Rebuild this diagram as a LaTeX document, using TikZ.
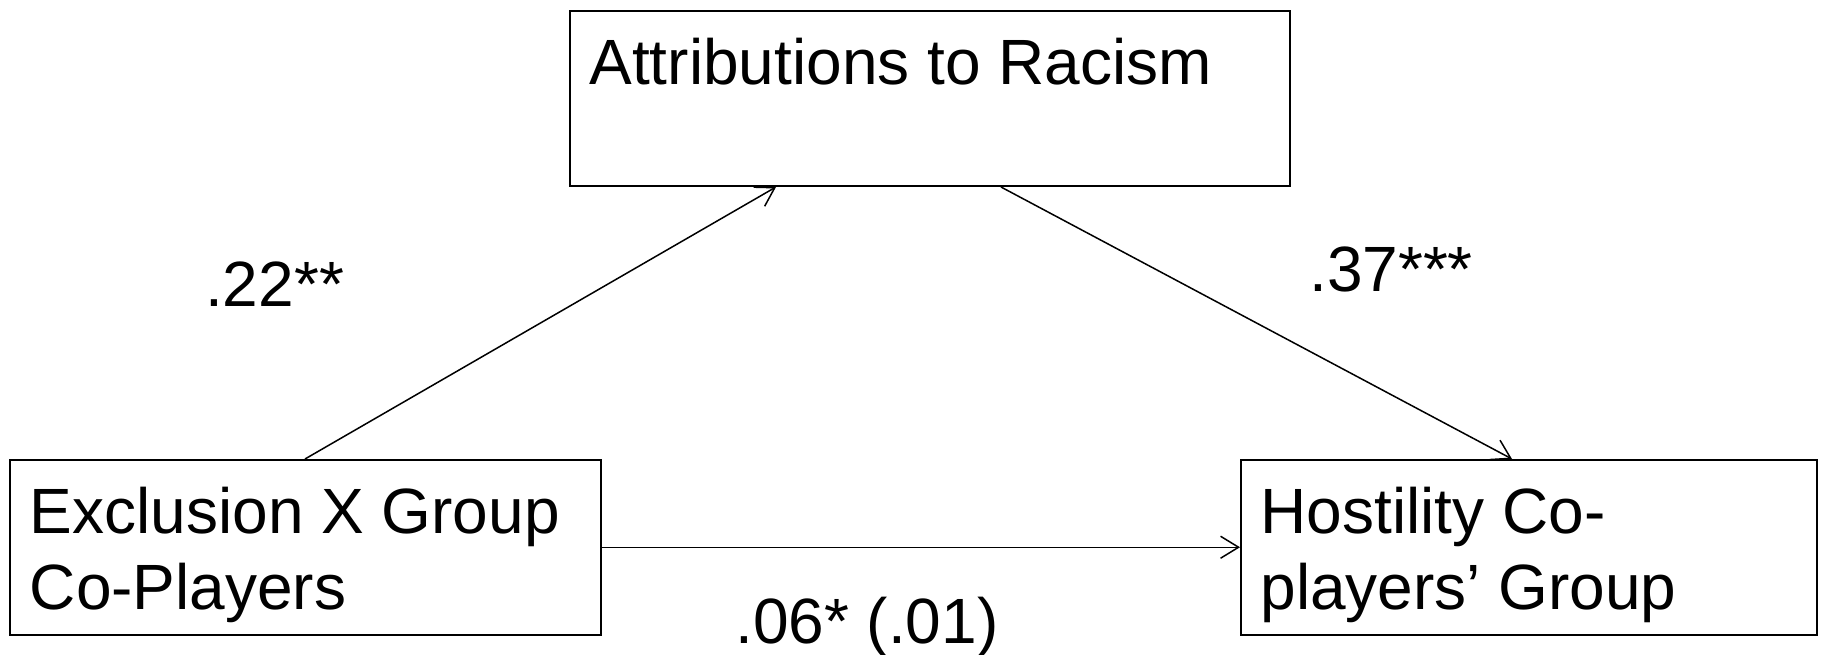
\documentclass[tikz,border=0pt]{standalone}
\usepackage{fontspec}
\setmainfont{Liberation Sans}
\usepackage{tikz}
\usetikzlibrary{arrows.meta,positioning,calc}

% box text: first baseline at fixed depth below top edge
\newcommand{\vartext}[2]{\parbox[c][174.5pt][t]{#1}{\raggedright\rule{0pt}{73.5pt}#2}}

\tikzset{
  var/.style={draw,line width=2pt,inner xsep=19.5pt,inner ysep=0pt,anchor=north west,
    font=\fontsize{64}{75.5}\selectfont},
  path/.style={->,line width=1.5pt},
  coef/.style={anchor=base west,inner sep=0pt,font=\fontsize{64}{75.5}\selectfont}
}

\begin{document}
\begin{tikzpicture}[x=1pt,y=1pt,>={Straight Barb[length=18pt,width=22pt]}]
  \useasboundingbox (0,0) rectangle (1821,654);
  % variables
  \node[var] (att) at (569,643.5) {\vartext{681pt}{Attributions to Racism}};
  \node[var] (exc) at (9.3,195) {\vartext{552pt}{Exclusion X Group\\Co-Players}};
  \node[var] (hos) at (1240,195) {\vartext{537pt}{Hostility Co-\\players’ Group}};
  % paths
  \draw[path] ([xshift=295.7pt]exc.north west) -- ([xshift=207pt]att.south west);
  \draw[path] ([xshift=432pt]att.south west) -- ([xshift=272pt]hos.north west);
  \draw[path] (exc.east) -- (hos.west);
  % coefficients
  \node[coef] (a) at (205,347) {.22**};
  \node[coef] (b) at (1309,362) {.37***};
  \node[coef] (c) at (735,11) {.06* (.01)};
\end{tikzpicture}
\end{document}
